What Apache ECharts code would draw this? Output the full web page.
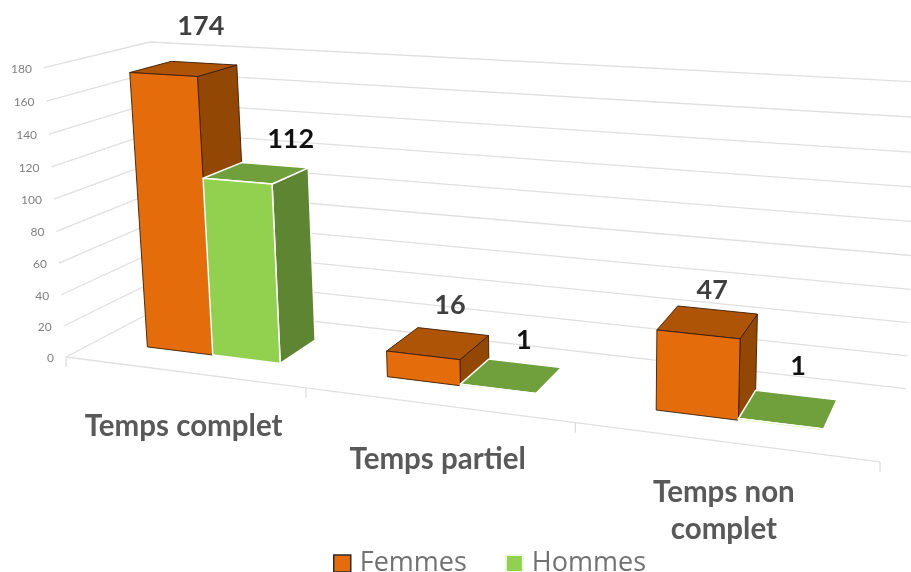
<!DOCTYPE html>
<html>
<head>
<meta charset="utf-8">
<style>html,body{margin:0;padding:0;background:#fff}#c{width:911px;height:572px}</style>
<script src="https://cdn.jsdelivr.net/npm/echarts@6/dist/echarts.min.js"></script>
</head>
<body>
<div id="c"></div>
<script>
const categories = ['Temps complet', 'Temps partiel', 'Temps non\ncomplet'];
const femmes = [174, 16, 47];
const hommes = [112, 1, 1];
const yTicks = [0, 20, 40, 60, 80, 100, 120, 140, 160, 180];

// Camera fitted to the picture: (u along categories, d depth, h height), each 0..1
const CAM = { ax: 669.7, ad: 117.6, ah: -23.76, a0: 66, by: 29.2, bd: -20.2, bh: -292, b0: 357, cu: -0.164, cd: 0.106, ch: -0.04 };
function project(u, d, h) {
  const w = 1 + CAM.cu * u + CAM.cd * d + CAM.ch * h;
  return [(CAM.a0 + CAM.ax * u + CAM.ad * d + CAM.ah * h) / w,
          (CAM.b0 + CAM.by * u + CAM.bd * d + CAM.bh * h) / w];
}
function toUnit(params, api, i, v) {
  const cs = params.coordSys, p = api.coord([i, v]);
  return [(p[0] - cs.x) / cs.width, (cs.y + cs.height - p[1]) / cs.height];
}
const BAR_W = 0.0945, BAR_SHIFT = 0.0025, D0 = 0.29, D1 = 0.70;
const FONT = '"Lato","Open Sans",sans-serif';
const CAT_LABEL_DY = [36, 36, 32];

function box(u0, u1, h, col, border, bw, labelText, labelColor, nudge) {
  const A = project(u0, D0, 0), B = project(u1, D0, 0), C = project(u1, D0, h), E = project(u0, D0, h);
  const F = project(u1, D1, 0), G = project(u1, D1, h), H = project(u0, D1, h);
  const poly = (pts, fill) => ({ type: 'polygon', shape: { points: pts }, style: { fill, stroke: border, lineWidth: bw, lineJoin: 'round' } });
  const t = project((u0 + u1) / 2, D1, h);
  return { type: 'group', children: [
    poly([B, F, G, C], col.side),
    poly([E, C, G, H], col.top),
    poly([A, B, C, E], col.front),
    { type: 'text', z2: 50, style: { text: labelText, x: t[0] + nudge[0], y: t[1] + nudge[1], fill: labelColor, font: 'bold 27px ' + FONT, align: 'center', verticalAlign: 'middle' } }
  ] };
}
function barSeries(name, values, side, col, border, bw, labelColor, nudges) {
  return {
    name, type: 'custom', coordinateSystem: 'cartesian2d', z: 5,
    itemStyle: { color: col.front },
    data: values.map((v, i) => [i, v]),
    renderItem(params, api) {
      const i = api.value(0), v = api.value(1);
      const q = toUnit(params, api, i, v);
      const u0 = (side < 0 ? q[0] - BAR_W : q[0]) + BAR_SHIFT, u1 = u0 + BAR_W;
      return box(u0, u1, q[1], col, border, bw, String(v), labelColor, nudges[i]);
    }
  };
}

const option = {
  animation: false,
  backgroundColor: '#fff',
  grid: { left: 0, right: 0, top: 0, bottom: 0, containLabel: false },
  xAxis: { type: 'category', data: categories, show: false },
  yAxis: { type: 'value', min: 0, max: 180, interval: 20, show: false },
  legend: {
    left: 328, top: 545, itemWidth: 17, itemHeight: 17, itemGap: 38,
    textStyle: { fontSize: 27, color: '#727272', fontFamily: '"Open Sans",sans-serif', padding: [0, 0, 0, 4] },
    data: [
      { name: 'Femmes', icon: 'rect', itemStyle: { color: '#E46C0A', borderColor: '#2b2b2b', borderWidth: 1.5 } },
      { name: 'Hommes', icon: 'rect', itemStyle: { color: '#92D050', borderColor: '#edf7e2', borderWidth: 2 } }
    ]
  },
  series: [
    { // value gridlines on the side and back walls, with their tick labels
      name: 'yGrid', type: 'custom', coordinateSystem: 'cartesian2d', z: 1, silent: true,
      data: yTicks.map(t => [0, t]),
      renderItem(params, api) {
        const t = api.value(1), h = toUnit(params, api, 0, t)[1];
        const lab = project(0, 0, h);
        return { type: 'group', children: [
          { type: 'polyline', shape: { points: [project(0, 0, h), project(0, 1, h), project(1, 1, h)] }, style: { fill: 'none', stroke: '#e0e0e0', lineWidth: 1.3 } },
          { type: 'text', style: { text: String(t), x: lab[0] - 12, y: lab[1] + 1, fill: '#7f7f7f', font: '12px ' + FONT, align: 'right', verticalAlign: 'middle' } }
        ] };
      }
    },
    { // floor front edge, tick marks and category labels
      name: 'xFrame', type: 'custom', coordinateSystem: 'cartesian2d', z: 2, silent: true,
      data: categories.map((c, i) => [i, 0]),
      renderItem(params, api) {
        const i = api.value(0), u = toUnit(params, api, i, 0)[0];
        const halfStep = 0.5 / categories.length, l = u - halfStep, r = u + halfStep;
        const tick = x => ({ type: 'line', shape: { x1: project(x, 0, 0)[0], y1: project(x, 0, 0)[1], x2: project(x, 0, 0)[0], y2: project(x, 0, 0)[1] + 10 }, style: { stroke: '#dcdcdc', lineWidth: 1.3 } });
        const c = project(u, 0, 0);
        const kids = [
          { type: 'polyline', shape: { points: [project(l, 0, 0), project(r, 0, 0)] }, style: { fill: 'none', stroke: '#e0e0e0', lineWidth: 1.3 } },
          tick(l),
          { type: 'text', style: { text: categories[i], x: c[0] + 1, y: c[1] + CAT_LABEL_DY[i], fill: '#595959', font: 'bold 29.5px ' + FONT, align: 'center', verticalAlign: 'top', lineHeight: 37 } }
        ];
        if (i === categories.length - 1) kids.push(tick(r));
        return { type: 'group', children: kids };
      }
    },
    barSeries('Femmes', femmes, -1, { front: '#E46C0A', top: '#AE5407', side: '#934704' }, '#3a1d04', 0.9, '#404040',
      [[-3, -37], [-3, -26], [-5, -20]]),
    barSeries('Hommes', hommes, 1, { front: '#92D050', top: '#70A03C', side: '#5E8632' }, '#ffffff', 1.5, '#111111',
      [[16, -26], [-1, -23], [2, -29]])
  ]
};
const chart = echarts.init(document.getElementById('c'), null, { renderer: 'canvas' });
chart.setOption(option);
</script>
</body>
</html>
